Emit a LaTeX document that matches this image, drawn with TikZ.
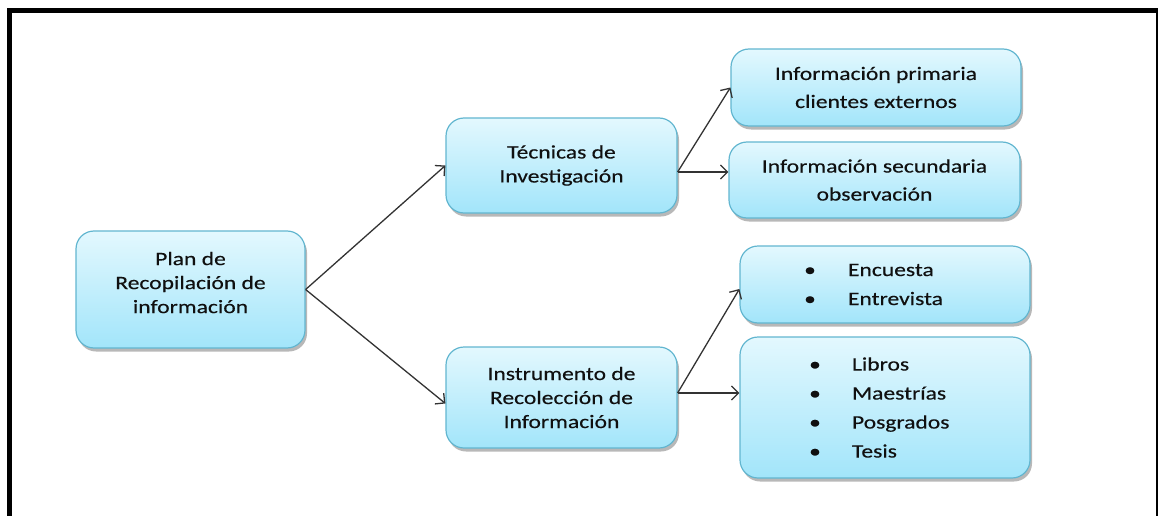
\documentclass[tikz,border=0pt]{standalone}
\usepackage{fontspec}
\setmainfont{Carlito}[FakeStretch=1.24,FakeBold=0.3]
\usetikzlibrary{arrows.meta,shadows,calc}
\definecolor{boxtop}{HTML}{E3F8FE}
\definecolor{boxbot}{HTML}{A2E5FA}
\definecolor{boxline}{HTML}{62B6D0}
\definecolor{arr}{HTML}{333333}
\definecolor{txt}{HTML}{101010}
\begin{document}
\begin{tikzpicture}[x=1pt,y=-1pt,
  box/.style={draw=boxline, line width=1.2pt, rounded corners=18pt,
    top color=boxtop, bottom color=boxbot,
    drop shadow={shadow xshift=2pt,shadow yshift=-3.5pt,fill=black,opacity=0.28},
    inner sep=0pt, align=center, text=txt, font=\fontsize{19}{24}\selectfont},
  listbox/.style={box, align=left, font=\fontsize{19}{29}\selectfont},
  conn/.style={draw=arr, line width=1.3pt, -{Straight Barb[length=7pt,width=14pt]}},
  frame/.style={draw=black, line cap=rect}]
\useasboundingbox (0,0) rectangle (1158,516);
% frame
\draw[frame, line width=5pt] (9.5,516) -- (9.5,10.5) -- (1157,10.5);
\draw[frame, line width=2.5pt] (1157,10.5) -- (1157,516);
% boxes
\node[box, minimum width=229pt, minimum height=117pt] (plan) at (190.5,289.5)
  {Plan de\\Recopilación de\\información\rule[-14pt]{0pt}{14pt}};
\node[box, minimum width=231pt, minimum height=95pt] (tec) at (561.5,165.5)
  {Técnicas de\\Investigación};
\node[box, minimum width=231pt, minimum height=101pt] (ins) at (561.5,397.5)
  {Instrumento de\\Recolección de\\Información};
\node[box, minimum width=290pt, minimum height=77pt, font=\fontsize{19}{28}\selectfont] (prim) at (876,87.5)
  {Información primaria\\clientes externos};
\node[box, minimum width=291pt, minimum height=76pt, font=\fontsize{19}{28}\selectfont] (sec) at (874.5,180)
  {Información secundaria\\observación};
\node[listbox, minimum width=290pt, minimum height=77pt, text width=290pt] (enc) at (885,284.5)
  {\hspace*{70pt}\makebox[0pt]{\textbullet}\hspace*{38pt}Encuesta\\
   \hspace*{70pt}\makebox[0pt]{\textbullet}\hspace*{38pt}Entrevista};
\node[listbox, minimum width=290pt, minimum height=141pt, text width=290pt] (lib) at (885,407.5)
  {\hspace*{75pt}\makebox[0pt]{\textbullet}\hspace*{37pt}Libros\\
   \hspace*{75pt}\makebox[0pt]{\textbullet}\hspace*{37pt}Maestrías\\
   \hspace*{75pt}\makebox[0pt]{\textbullet}\hspace*{37pt}Posgrados\\
   \hspace*{75pt}\makebox[0pt]{\textbullet}\hspace*{37pt}Tesis};
% connectors
\draw[conn] (plan.east) -- (tec.west);
\draw[conn] (plan.east) -- ([yshift=-6pt]ins.west);
\coordinate (t0) at ([yshift=-6.5pt]tec.east);
\draw[conn] (t0) -- (prim.west);
\draw[conn] (t0) -- (sec.west |- t0);
\coordinate (i0) at ([yshift=4.5pt]ins.east);
\draw[conn] (i0) -- ([yshift=-4.5pt]enc.west);
\draw[conn] (i0) -- (lib.west |- i0);
\end{tikzpicture}
\end{document}
